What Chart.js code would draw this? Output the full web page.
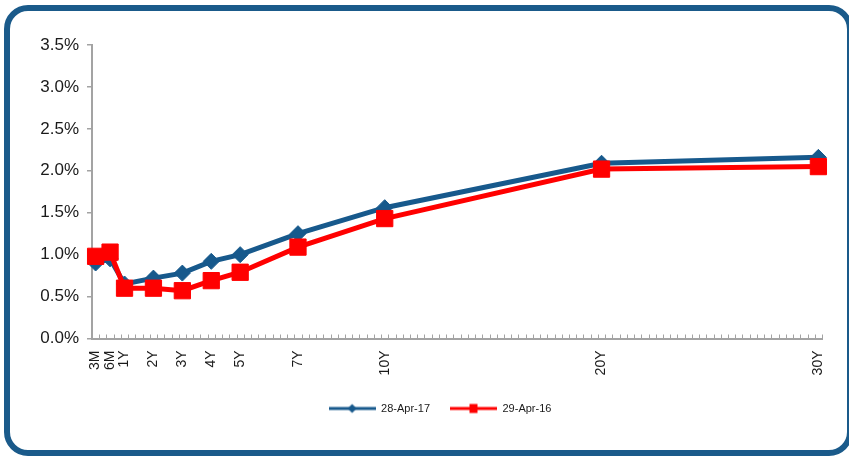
<!DOCTYPE html>
<html>
<head>
<meta charset="utf-8">
<script src="https://cdn.jsdelivr.net/npm/chart.js@4/dist/chart.umd.min.js"></script>
<style>
  html, body { margin: 0; padding: 0; background: #ffffff; }
  #wrap { position: relative; width: 849px; height: 458px; overflow: hidden; background: #ffffff; }
  #curve { position: absolute; left: 0; top: 0; }
  #frame {
    position: absolute; left: 4px; top: 5px; width: 849px; height: 451px;
    border: 6px solid #1A5A8A; border-radius: 24px; box-sizing: border-box;
    pointer-events: none;
  }
</style>
</head>
<body>
<div id="wrap">
  <canvas id="curve" width="849" height="458"></canvas>
  <div id="frame"></div>
</div>
<script>
// Yield curve: two dates, tenors placed on a 101-slot category axis
const tenorLabels = ['3M', '6M', '1Y', '2Y', '3Y', '4Y', '5Y', '7Y', '10Y', '20Y', '30Y'];
const tenorSlots  = [0, 2, 4, 8, 12, 16, 20, 28, 40, 70, 100];
const slotCount   = 101;

const seriesNames = ['28-Apr-17', '29-Apr-16'];
const yields2017  = [0.90, 0.95, 0.65, 0.72, 0.78, 0.92, 1.00, 1.25, 1.56, 2.09, 2.16];
const yields2016  = [0.98, 1.03, 0.60, 0.60, 0.57, 0.69, 0.79, 1.09, 1.43, 2.02, 2.05];

const yMin = 0, yMax = 3.5, yStep = 0.5;

const BLUE = '#17598C';
const RED = '#FF0000';
const AXIS = '#A3A3A3';
const TEXT = '#1a1a1a';
const FONT = "'Liberation Sans', Arial, sans-serif";

// category labels: tenor names on their slots, blanks elsewhere
const axisLabels = Array.from({ length: slotCount }, () => '');
tenorSlots.forEach((s, i) => { axisLabels[s] = tenorLabels[i]; });

function spread(values) {
  const arr = new Array(slotCount).fill(null);
  tenorSlots.forEach((s, i) => { arr[s] = values[i]; });
  return arr;
}

// legend swatches: line with marker in the middle
function legendIcon(color, shape) {
  const c = document.createElement('canvas');
  c.width = 47; c.height = 12;
  const g = c.getContext('2d');
  g.strokeStyle = color; g.lineWidth = 3;
  g.beginPath(); g.moveTo(0, 6); g.lineTo(47, 6); g.stroke();
  g.fillStyle = color;
  if (shape === 'diamond') {
    g.beginPath(); g.moveTo(23.5, 1.5); g.lineTo(28, 6); g.lineTo(23.5, 10.5); g.lineTo(19, 6); g.closePath(); g.fill();
  } else {
    g.fillRect(19.5, 1.5, 8, 9);
  }
  return c;
}
const legendIcons = [legendIcon(BLUE, 'diamond'), legendIcon(RED, 'square')];

// short inward tick marks between the categories of the x axis
const xTickMarks = {
  id: 'xTickMarks',
  beforeDatasetsDraw(chart) {
    const x = chart.scales.x;
    const g = chart.ctx;
    const half = (x.getPixelForValue(1) - x.getPixelForValue(0)) / 2;
    const yb = chart.chartArea.bottom;
    g.save();
    g.strokeStyle = AXIS; g.lineWidth = 1;
    for (let i = 0; i <= slotCount; i++) {
      const px = Math.round(x.getPixelForValue(i) - half) + 0.5;
      g.beginPath(); g.moveTo(px, yb); g.lineTo(px, yb - 4); g.stroke();
    }
    g.restore();
  }
};

// nudge the legend row to the right of the padded box centre
const legendNudge = {
  id: 'legendNudge',
  afterLayout(chart) {
    chart.legend.left += 14;
    chart.legend.right += 14;
  }
};

new Chart(document.getElementById('curve'), {
  type: 'line',
  data: {
    labels: axisLabels,
    datasets: [
      {
        label: seriesNames[0],
        data: spread(yields2017),
        borderColor: BLUE, backgroundColor: BLUE, borderWidth: 5,
        pointStyle: 'rectRot', pointRadius: 8, pointBorderWidth: 1,
        pointBackgroundColor: BLUE, pointBorderColor: BLUE,
        spanGaps: true, tension: 0, order: 1
      },
      {
        label: seriesNames[1],
        data: spread(yields2016),
        borderColor: RED, backgroundColor: RED, borderWidth: 5,
        pointStyle: 'rect', pointRadius: 11.5, pointBorderWidth: 1,
        pointBackgroundColor: RED, pointBorderColor: RED,
        spanGaps: true, tension: 0, order: 0
      }
    ]
  },
  options: {
    responsive: false,
    animation: false,
    devicePixelRatio: 1,
    layout: { padding: { left: 30, right: 27, top: 45, bottom: 34 } },
    plugins: {
      tooltip: { enabled: false },
      legend: {
        position: 'bottom',
        labels: {
          usePointStyle: true,
          pointStyleWidth: 47,
          padding: 20,
          color: TEXT,
          font: { family: FONT, size: 11 },
          sort: (a, b) => a.datasetIndex - b.datasetIndex,
          generateLabels(chart) {
            const items = Chart.defaults.plugins.legend.labels.generateLabels(chart);
            items.forEach(it => { it.pointStyle = legendIcons[it.datasetIndex]; });
            return items;
          }
        }
      }
    },
    scales: {
      x: {
        type: 'category',
        offset: true,
        grid: { display: true, drawOnChartArea: false, drawTicks: false, offset: true },
        border: { display: true, color: AXIS, width: 2 },
        ticks: {
          autoSkip: false, maxRotation: 90, minRotation: 90, padding: 12,
          color: TEXT, font: { family: FONT, size: 14 }
        },
        afterFit(s) { s.height = 44.5; }
      },
      y: {
        min: yMin, max: yMax,
        ticks: {
          stepSize: yStep, padding: 8, color: TEXT,
          font: { family: FONT, size: 17 },
          callback: v => v.toFixed(1) + '%'
        },
        grid: { display: true, drawOnChartArea: false, tickLength: 5, color: AXIS, lineWidth: 1.5 },
        border: { display: true, color: AXIS, width: 2 },
        afterFit(s) { s.width = 62; }
      }
    }
  },
  plugins: [xTickMarks, legendNudge]
});
</script>
</body>
</html>
